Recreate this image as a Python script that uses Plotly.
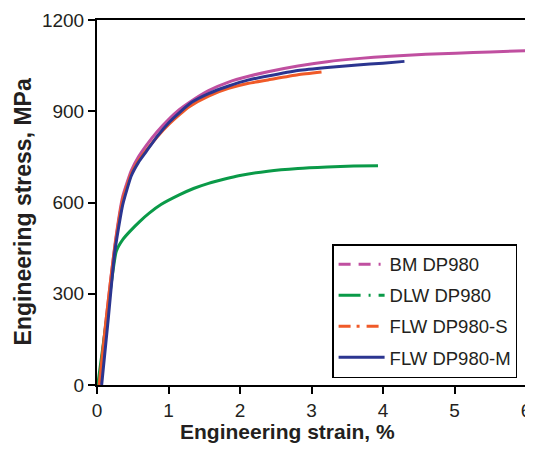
import plotly.graph_objects as go

# ---- data ----
bm_x = [0.03, 0.12, 0.25, 0.36, 0.48, 0.58, 0.69, 0.85, 1.01, 1.15, 1.29, 1.56, 1.84, 2.12, 2.39, 2.81, 3.22, 3.64, 4.1, 4.6, 5.02, 5.5, 6.0]
bm_y = [0, 200, 460, 620, 705, 750, 788, 835, 875, 905, 929, 968, 996, 1015, 1030, 1049, 1063, 1073, 1081, 1087, 1091, 1095, 1099]

dlw_x = [0.01, 0.14, 0.27, 0.36, 0.46, 0.6, 0.73, 0.9, 1.15, 1.35, 1.56, 1.8, 1.98, 2.39, 2.81, 3.22, 3.59, 3.93]
dlw_y = [0, 225, 440, 478, 505, 538, 565, 594, 625, 646, 663, 678, 688, 703, 712, 717, 720, 721]

flws_x = [0.03, 0.13, 0.25, 0.36, 0.48, 0.58, 0.69, 0.85, 1.01, 1.15, 1.29, 1.56, 1.84, 2.12, 2.39, 2.81, 3.14]
flws_y = [0, 220, 455, 610, 695, 738, 772, 818, 858, 888, 915, 950, 975, 992, 1003, 1020, 1029]

flwm_x = [0.065, 0.15, 0.25, 0.36, 0.48, 0.58, 0.69, 0.85, 1.01, 1.15, 1.33, 1.56, 1.84, 2.12, 2.39, 2.81, 3.22, 3.64, 4.0, 4.30]
flwm_y = [0, 200, 440, 593, 688, 732, 768, 820, 864, 895, 930, 958, 983, 1003, 1016, 1034, 1044, 1052, 1058, 1064]

names = ["BM DP980", "DLW DP980", "FLW DP980-S", "FLW DP980-M"]
colors = ["#C04FA0", "#0A9A48", "#F05A28", "#2B3590"]
dashes = ["12px,8px,12px,8px,2px,8px", "22px,8px,2px,8px", "12px,6px,3px,7px", "solid"]

x_ticks = [0, 1, 2, 3, 4, 5, 6]
y_ticks = [0, 300, 600, 900, 1200]

FONT = "Liberation Sans, Arial, Helvetica, sans-serif"

fig = go.Figure()
series = [(bm_x, bm_y), (dlw_x, dlw_y), (flws_x, flws_y), (flwm_x, flwm_y)]
for (xs, ys), c in zip(series, colors):
    fig.add_trace(go.Scatter(x=xs, y=ys, mode="lines", showlegend=False,
                             line=dict(color=c, width=3, shape="spline", smoothing=0.5),
                             hoverinfo="skip"))
# legend entries
for i, (n, c, d) in enumerate(zip(names, colors, dashes)):
    fig.add_trace(go.Scatter(x=[None], y=[None], mode="lines", name=n,
                             legendgroup=f"g{i}",
                             line=dict(color=c, width=3, dash=d)))

axis_common = dict(showgrid=False, zeroline=False, showline=True, linecolor="black",
                   linewidth=2, mirror=True, ticks="outside", ticklen=7, tickwidth=2,
                   tickcolor="black", ticklabeloverflow="allow",
                   tickfont=dict(family=FONT, size=19, color="#231f20"))

fig.update_xaxes(range=[0, 6], tickvals=x_ticks, ticktext=[str(v) for v in x_ticks], **axis_common)
fig.update_yaxes(range=[0, 1200], tickvals=y_ticks, ticktext=[str(v) for v in y_ticks], **axis_common)

# page body has an 8px margin, so the figure is offset by 8px; compensate
fig.update_layout(
    width=525, height=442,
    margin=dict(l=89, r=2, t=9, b=65),
    plot_bgcolor="white", paper_bgcolor="white",
    font=dict(family=FONT, color="#231f20"),
    legend=dict(x=0.548, y=0.386, xanchor="left", yanchor="top",
                bordercolor="black", borderwidth=1.5, bgcolor="white",
                font=dict(family=FONT, size=18.5, color="#231f20"),
                traceorder="grouped", tracegroupgap=4, itemwidth=46),
    annotations=[
        dict(text="<b>Engineering strain, %</b>", xref="paper", yref="paper",
             x=0.445, y=-0.128, xanchor="center", yanchor="middle", showarrow=False,
             font=dict(family=FONT, size=21, color="#231f20")),
        dict(text="<b>Engineering stress, MPa</b>", xref="paper", yref="paper",
             x=-0.173, y=0.475, xanchor="center", yanchor="middle", showarrow=False, textangle=-90,
             font=dict(family=FONT, size=23, color="#231f20")),
    ],
)

fig.write_html("out.html")
